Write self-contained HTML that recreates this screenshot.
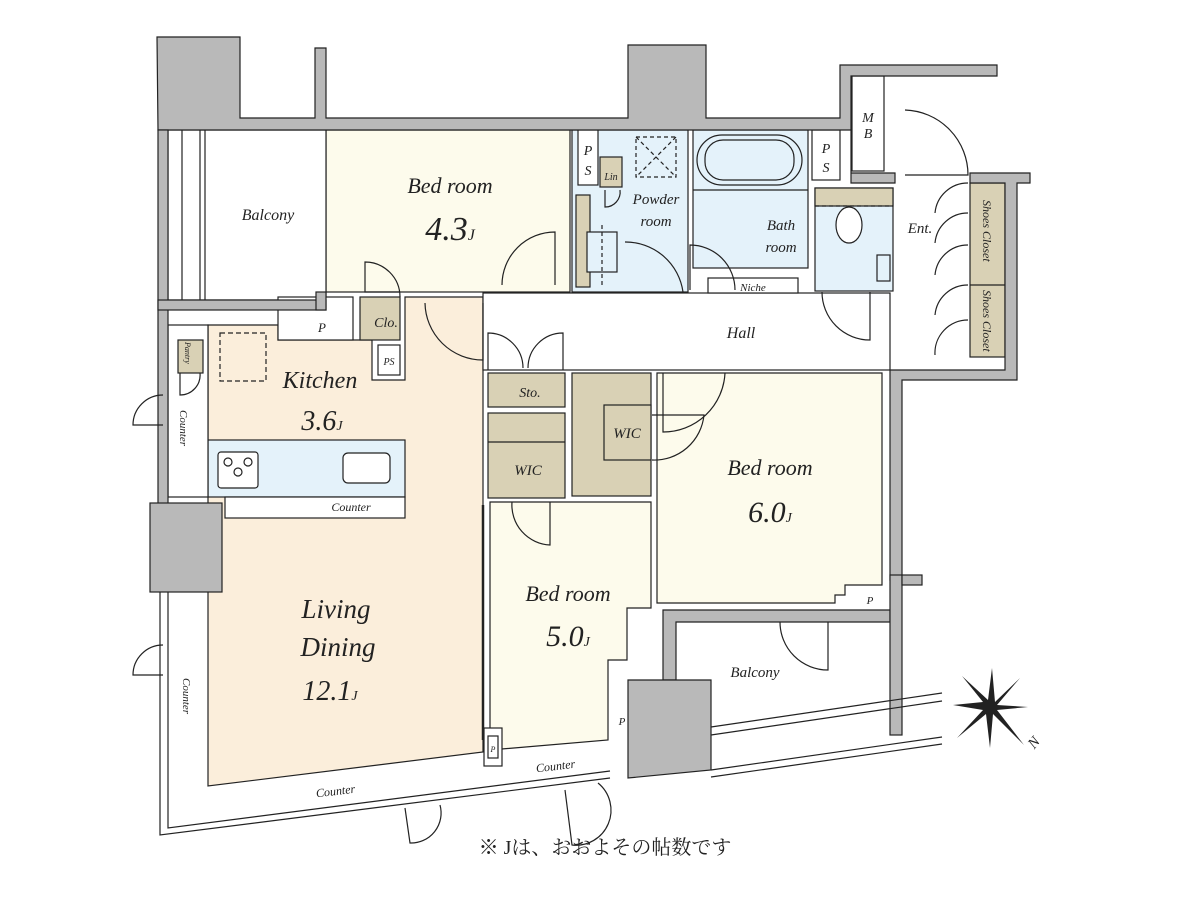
<!DOCTYPE html>
<html><head><meta charset="utf-8"><style>
html,body{margin:0;padding:0;background:#fff;}
svg{display:block;}
text{font-family:"Liberation Serif","Noto Serif CJK SC",serif;font-style:italic;fill:#222;}
.jp{font-style:normal;font-family:"Liberation Serif","Noto Serif CJK SC","Noto Sans CJK JP",serif;}
</style></head><body>
<svg width="1200" height="900" viewBox="0 0 1200 900" xmlns="http://www.w3.org/2000/svg">
<g stroke="#222" stroke-width="1.2">
<rect x="326" y="130" width="244" height="162" fill="#fdfbec"/>
<rect x="168" y="130" width="158" height="170" fill="#fff"/>
<line x1="205" y1="130" x2="205" y2="300"/><line x1="200" y1="130" x2="200" y2="300"/>
<line x1="182" y1="130" x2="182" y2="300"/>
<polygon points="208,325 278,325 278,340 372,340 372,380 405,380 405,297 483,297 483,752 208,786" fill="#fbeedb"/>
<rect x="208" y="440" width="197" height="57" fill="#e4f2fa"/>
<rect x="225" y="497" width="180" height="21" fill="#fff"/>
<rect x="218" y="452" width="40" height="36" fill="#fff" rx="3"/>
<circle cx="228" cy="462" r="4" fill="none"/><circle cx="248" cy="462" r="4" fill="none"/><circle cx="238" cy="472" r="4" fill="none"/>
<rect x="343" y="453" width="47" height="30" rx="5" fill="#fff"/>
<rect x="220" y="333" width="46" height="48" fill="none" stroke-dasharray="5,3"/>
<rect x="168" y="325" width="40" height="172" fill="#fff"/>
<rect x="178" y="340" width="25" height="33" fill="#d9d1b5"/>
<rect x="278" y="297" width="75" height="43" fill="#fff"/>
<rect x="360" y="297" width="40" height="43" fill="#d9d1b5"/>
<rect x="378" y="345" width="22" height="30" fill="#fff"/>
<rect x="483" y="293" width="407" height="77" fill="#fff"/>
<rect x="488" y="373" width="77" height="34" fill="#d9d1b5"/>
<rect x="488" y="413" width="77" height="85" fill="#d9d1b5"/>
<line x1="488" y1="442" x2="565" y2="442"/>
<rect x="572" y="373" width="79" height="123" fill="#d9d1b5"/>
<rect x="604" y="405" width="47" height="55" fill="#d9d1b5"/>
<polygon points="657,373 882,373 882,585 845,585 845,595 835,595 835,603 657,603" fill="#fdfbec"/>
<polygon points="490,502 651,502 651,608 627,608 627,660 608,660 608,740 490,750" fill="#fdfbec"/>
<rect x="572" y="130" width="116" height="162" fill="#e4f2fa"/>
<rect x="576" y="195" width="14" height="92" fill="#d9d1b5"/>
<rect x="587" y="232" width="30" height="40" fill="#e4f2fa"/>
<rect x="578" y="130" width="20" height="55" fill="#fff"/>
<rect x="600" y="157" width="22" height="30" fill="#d9d1b5"/>
<rect x="636" y="137" width="40" height="40" fill="none" stroke-dasharray="4,3"/>
<line x1="636" y1="137" x2="676" y2="177" stroke-dasharray="4,3"/><line x1="676" y1="137" x2="636" y2="177" stroke-dasharray="4,3"/>
<rect x="693" y="130" width="115" height="138" fill="#e4f2fa"/>
<line x1="693" y1="190" x2="808" y2="190"/>
<rect x="697" y="135" width="105" height="50" rx="25" fill="none"/>
<rect x="705" y="140" width="89" height="40" rx="18" fill="none"/>
<rect x="708" y="278" width="90" height="15" fill="#fff"/>
<rect x="812" y="130" width="28" height="50" fill="#fff"/>
<rect x="815" y="188" width="78" height="103" fill="#e4f2fa"/>
<rect x="815" y="188" width="78" height="18" fill="#d9d1b5"/>
<ellipse cx="849" cy="225" rx="13" ry="18" fill="#fff"/>
<rect x="877" y="255" width="13" height="26" fill="#e4f2fa"/>
<rect x="852" y="76" width="32" height="95" fill="#fff"/>
<rect x="970" y="183" width="35" height="174" fill="#d9d1b5"/>
<line x1="970" y1="285" x2="1005" y2="285"/>
</g>
<g fill="#b9b9b9" stroke="#222" stroke-width="1.2">
<polygon points="157,37 240,37 240,118 315,118 315,48 326,48 326,118 628,118 628,45 706,45 706,118 840,118 840,65 997,65 997,76 851,76 851,173 895,173 895,183 851,183 851,130 158,130"/>
<polygon points="970,173 1030,173 1030,183 1017,183 1017,380 902,380 902,580 890,580 890,370 1005,370 1005,183 970,183"/>
<rect x="158" y="130" width="10" height="390"/>
<rect x="150" y="503" width="72" height="89"/>
<rect x="158" y="300" width="168" height="10"/>
<rect x="316" y="292" width="10" height="18"/>
<polygon points="663,610 890,610 890,622 676,622 676,680 663,680"/>
<rect x="890" y="575" width="12" height="160"/>
<rect x="902" y="575" width="20" height="10"/>
<polygon points="628,680 711,680 711,770 628,778"/>
</g>
<g stroke="#222" stroke-width="1.2" fill="none">
<polyline points="160,592 160,835 610,778"/>
<polyline points="168,592 168,828 610,771"/>
<line x1="711" y1="727" x2="942" y2="693"/><line x1="711" y1="735" x2="942" y2="701"/>
<line x1="711" y1="770" x2="942" y2="737"/><line x1="711" y1="777" x2="942" y2="744"/>
<line x1="483" y1="505" x2="483" y2="740" stroke-width="2.5"/>
<path d="M555,285 L555,232 A53,53 0 0 0 502,285"/>
<path d="M400,292 L365,292 L365,262 A35,35 0 0 1 400,297"/>
<path d="M425,303 A58,58 0 0 0 483,360 L483,303"/>
<path d="M488,370 L488,333 A35,35 0 0 1 523,368 M563,370 L563,333 A35,35 0 0 0 528,368"/>
<path d="M663,373 L663,432 A62,62 0 0 0 725,373"/>
<path d="M652,415 L704,415 A50,50 0 0 1 652,460"/>
<path d="M512,502 A40,40 0 0 0 550,545 L550,502"/>
<path d="M690,290 L690,245 A45,45 0 0 1 735,290"/>
<path d="M625,242 A58,58 0 0 1 683,292"/>
<path d="M822,292 A48,48 0 0 0 870,340 L870,292"/>
<path d="M905,110 A65,65 0 0 1 968,175 L905,175"/>
<path d="M968,183 A33,33 0 0 0 935,213 M968,213 A33,33 0 0 0 935,243 M968,245 A33,33 0 0 0 935,275 M968,285 A33,33 0 0 0 935,315 M968,320 A33,33 0 0 0 935,355"/>
<path d="M780,622 A48,48 0 0 0 828,670 L828,622"/>
<path d="M163,395 A30,30 0 0 0 133,425 L163,425"/>
<path d="M163,645 A30,30 0 0 0 133,675 L163,675"/>
<path d="M405,808 L410,843 A30,30 0 0 0 440,805"/>
<path d="M565,790 L572,845 A35,35 0 0 0 598,783"/>
<path d="M180,373 L180,395 A20,20 0 0 0 200,373"/>
<path d="M605,190 L605,207 A15,15 0 0 0 620,190"/>
<rect x="484" y="728" width="18" height="38" fill="#fff"/>
<rect x="488" y="736" width="10" height="22"/>
<line x1="602" y1="225" x2="602" y2="287" stroke-dasharray="4,3"/>
<line x1="815" y1="206" x2="893" y2="206" stroke-dasharray="4,3"/>
</g>
<g fill="#222">
<polygon points="992,668 995,702 1020,678 997,705 1028,707 997,710 1024,745 993,714 990,748 986,714 957,738 983,710 953,705 983,702 962,676 988,700"/>
</g>
<text x="1027" y="750" font-size="15" transform="rotate(-50 1030 742)">N</text>
<text x="450" y="193" font-size="22" text-anchor="middle">Bed room</text>
<text x="450" y="240" font-size="34" text-anchor="middle">4.3<tspan font-size="16">J</tspan></text>
<text x="268" y="220" font-size="16" text-anchor="middle">Balcony</text>
<text x="320" y="388" font-size="24" text-anchor="middle">Kitchen</text>
<text x="322" y="430" font-size="28" text-anchor="middle">3.6<tspan font-size="14">J</tspan></text>
<text x="351" y="511" font-size="12" text-anchor="middle">Counter</text>
<text x="386" y="327" font-size="14" text-anchor="middle">Clo.</text>
<text x="322" y="332" font-size="13" text-anchor="middle">P</text>
<text x="389" y="365" font-size="10" text-anchor="middle">PS</text>
<text x="185" y="342" font-size="8" transform="rotate(90 185 342)">Pantry</text>
<text x="180" y="410" font-size="11" transform="rotate(90 180 410)">Counter</text>
<text x="183" y="678" font-size="11" transform="rotate(90 183 678)">Counter</text>
<text x="336" y="618" font-size="27" text-anchor="middle">Living</text>
<text x="338" y="656" font-size="27" text-anchor="middle">Dining</text>
<text x="330" y="700" font-size="28" text-anchor="middle">12.1<tspan font-size="14">J</tspan></text>
<text x="336" y="795" font-size="12" text-anchor="middle" transform="rotate(-7 336 795)">Counter</text>
<text x="556" y="770" font-size="12" text-anchor="middle" transform="rotate(-7 556 770)">Counter</text>
<text x="568" y="601" font-size="22" text-anchor="middle">Bed room</text>
<text x="568" y="646" font-size="30" text-anchor="middle">5.0<tspan font-size="14">J</tspan></text>
<text x="770" y="475" font-size="22" text-anchor="middle">Bed room</text>
<text x="770" y="522" font-size="30" text-anchor="middle">6.0<tspan font-size="14">J</tspan></text>
<text x="755" y="677" font-size="15" text-anchor="middle">Balcony</text>
<text x="741" y="338" font-size="16" text-anchor="middle">Hall</text>
<text x="530" y="397" font-size="14" text-anchor="middle">Sto.</text>
<text x="528" y="475" font-size="15" text-anchor="middle">WIC</text>
<text x="627" y="438" font-size="15" text-anchor="middle">WIC</text>
<text x="656" y="204" font-size="15" text-anchor="middle">Powder</text>
<text x="656" y="226" font-size="15" text-anchor="middle">room</text>
<text x="781" y="230" font-size="15" text-anchor="middle">Bath</text>
<text x="781" y="252" font-size="15" text-anchor="middle">room</text>
<text x="753" y="291" font-size="11" text-anchor="middle">Niche</text>
<text x="920" y="233" font-size="15" text-anchor="middle">Ent.</text>
<text x="983" y="200" font-size="12" transform="rotate(90 983 200)">Shoes Closet</text>
<text x="983" y="290" font-size="12" transform="rotate(90 983 290)">Shoes Closet</text>
<text x="588" y="155" font-size="14" text-anchor="middle">P</text>
<text x="588" y="175" font-size="14" text-anchor="middle">S</text>
<text x="826" y="153" font-size="14" text-anchor="middle">P</text>
<text x="826" y="172" font-size="14" text-anchor="middle">S</text>
<text x="868" y="122" font-size="14" text-anchor="middle">M</text>
<text x="868" y="138" font-size="14" text-anchor="middle">B</text>
<text x="611" y="180" font-size="10" text-anchor="middle">Lin</text>
<text x="870" y="604" font-size="11" text-anchor="middle">P</text>
<text x="622" y="725" font-size="11" text-anchor="middle">P</text>
<text x="493" y="752" font-size="8" text-anchor="middle">P</text>
<text x="605" y="854" font-size="20" text-anchor="middle" class="jp">※ Jは、おおよその帖数です</text>
</svg>
</body></html>
